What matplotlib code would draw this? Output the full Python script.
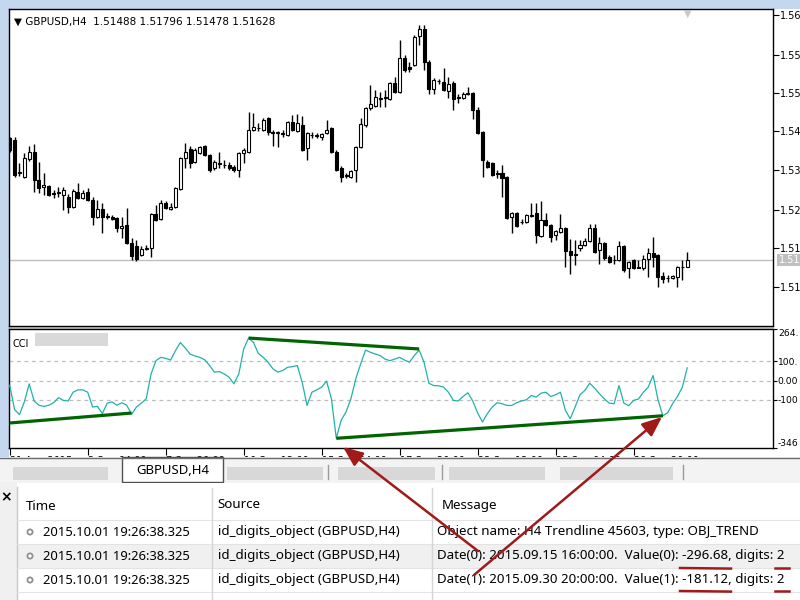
import matplotlib
matplotlib.use('Agg')
import matplotlib.pyplot as plt
import numpy as np
from matplotlib.patches import Rectangle, FancyArrowPatch, Circle

# ---------------- data ----------------
opens = [1.5413,1.5409,1.5343,1.5333,1.5370,1.5384,1.5327,1.5312,1.5315,1.5300,
         1.5300,1.5296,1.5292,1.5271,1.5302,1.5290,1.5302,1.5286,1.5251,1.5267,
         1.5251,1.5251,1.5249,1.5228,1.5235,1.5198,1.5191,1.5173,1.5185,1.5187,
         1.5257,1.5247,1.5280,1.5267,1.5271,1.5308,1.5372,1.5390,1.5364,1.5382,
         1.5397,1.5378,1.5351,1.5362,1.5358,1.5358,1.5354,1.5347,1.5382,1.5384,
         1.5429,1.5434,1.5429,1.5454,1.5425,1.5423,1.5423,1.5419,1.5446,1.5427,
         1.5440,1.5393,1.5419,1.5419,1.5415,1.5423,1.5434,1.5384,1.5351,1.5337,
         1.5333,1.5347,1.5395,1.5440,1.5475,1.5479,1.5495,1.5495,1.5493,1.5526,
         1.5507,1.5577,1.5559,1.5563,1.5622,1.5637,1.5569,1.5514,1.5530,1.5528,
         1.5509,1.5526,1.5497,1.5495,1.5505,1.5505,1.5470,1.5425,1.5364,1.5362,
         1.5341,1.5341,1.5333,1.5251,1.5259,1.5241,1.5241,1.5255,1.5259,1.5212,
         1.5245,1.5235,1.5214,1.5220,1.5228,1.5181,1.5175,1.5187,1.5194,1.5202,
         1.5228,1.5183,1.5198,1.5169,1.5163,1.5163,1.5191,1.5146,1.5163,1.5148,
         1.5146,1.5165,1.5177,1.5173,1.5130,1.5126,1.5126,1.5128,1.5148,1.51488]
highs = [1.5415,1.5415,1.5362,1.5382,1.5397,1.5401,1.5364,1.5341,1.5317,1.5306,
         1.5312,1.5312,1.5298,1.5308,1.5321,1.5306,1.5310,1.5292,1.5286,1.5280,
         1.5259,1.5255,1.5251,1.5251,1.5269,1.5208,1.5204,1.5191,1.5194,1.5259,
         1.5276,1.5286,1.5284,1.5280,1.5312,1.5374,1.5403,1.5397,1.5393,1.5397,
         1.5399,1.5380,1.5368,1.5384,1.5368,1.5364,1.5358,1.5384,1.5393,1.5466,
         1.5464,1.5444,1.5454,1.5456,1.5429,1.5427,1.5429,1.5448,1.5460,1.5462,
         1.5458,1.5425,1.5425,1.5423,1.5423,1.5450,1.5436,1.5388,1.5356,1.5341,
         1.5347,1.5397,1.5454,1.5477,1.5522,1.5511,1.5507,1.5511,1.5528,1.5538,
         1.5614,1.5583,1.5569,1.5624,1.5645,1.5645,1.5573,1.5536,1.5534,1.5557,
         1.5538,1.5530,1.5503,1.5507,1.5518,1.5507,1.5477,1.5427,1.5368,1.5364,
         1.5347,1.5358,1.5335,1.5261,1.5261,1.5247,1.5257,1.5280,1.5280,1.5284,
         1.5259,1.5237,1.5224,1.5257,1.5230,1.5206,1.5204,1.5204,1.5208,1.5237,
         1.5237,1.5210,1.5200,1.5173,1.5173,1.5202,1.5194,1.5161,1.5165,1.5163,
         1.5173,1.5187,1.5210,1.5175,1.5138,1.5132,1.5132,1.5150,1.5163,1.51796]
lows = [1.5384,1.5333,1.5335,1.5331,1.5366,1.5302,1.5300,1.5296,1.5294,1.5290,
        1.5292,1.5265,1.5259,1.5269,1.5288,1.5288,1.5284,1.5235,1.5249,1.5218,
        1.5247,1.5245,1.5220,1.5208,1.5196,1.5163,1.5161,1.5171,1.5183,1.5169,
        1.5243,1.5245,1.5267,1.5265,1.5269,1.5306,1.5351,1.5351,1.5362,1.5380,
        1.5376,1.5343,1.5347,1.5351,1.5351,1.5347,1.5343,1.5333,1.5362,1.5382,
        1.5427,1.5427,1.5427,1.5419,1.5397,1.5395,1.5415,1.5417,1.5427,1.5425,
        1.5386,1.5368,1.5413,1.5413,1.5409,1.5421,1.5382,1.5345,1.5323,1.5331,
        1.5331,1.5323,1.5393,1.5436,1.5470,1.5477,1.5477,1.5477,1.5491,1.5505,
        1.5505,1.5548,1.5548,1.5561,1.5604,1.5553,1.5503,1.5503,1.5524,1.5509,
        1.5495,1.5470,1.5485,1.5493,1.5501,1.5452,1.5421,1.5333,1.5351,1.5335,
        1.5331,1.5292,1.5247,1.5218,1.5230,1.5237,1.5239,1.5251,1.5198,1.5210,
        1.5232,1.5200,1.5204,1.5218,1.5148,1.5134,1.5153,1.5181,1.5191,1.5200,
        1.5177,1.5155,1.5163,1.5157,1.5155,1.5161,1.5138,1.5126,1.5144,1.5146,
        1.5142,1.5128,1.5148,1.5107,1.5116,1.5118,1.5124,1.5107,1.5122,1.51478]
closes = [1.5388,1.5337,1.5341,1.5372,1.5384,1.5327,1.5310,1.5317,1.5296,1.5298,
          1.5302,1.5306,1.5271,1.5304,1.5290,1.5300,1.5286,1.5251,1.5267,1.5251,
          1.5253,1.5247,1.5228,1.5232,1.5198,1.5171,1.5165,1.5185,1.5187,1.5257,
          1.5245,1.5280,1.5269,1.5271,1.5310,1.5372,1.5384,1.5362,1.5388,1.5395,
          1.5378,1.5347,1.5364,1.5360,1.5357,1.5351,1.5347,1.5382,1.5388,1.5429,
          1.5436,1.5433,1.5450,1.5425,1.5423,1.5425,1.5421,1.5446,1.5429,1.5444,
          1.5388,1.5423,1.5420,1.5417,1.5421,1.5429,1.5384,1.5347,1.5333,1.5335,
          1.5345,1.5395,1.5442,1.5475,1.5483,1.5497,1.5494,1.5497,1.5526,1.5507,
          1.5577,1.5553,1.5555,1.5620,1.5637,1.5569,1.5514,1.5532,1.5529,1.5511,
          1.5524,1.5493,1.5496,1.5503,1.5504,1.5470,1.5423,1.5368,1.5354,1.5337,
          1.5340,1.5331,1.5249,1.5259,1.5232,1.5240,1.5255,1.5254,1.5214,1.5245,
          1.5235,1.5210,1.5222,1.5228,1.5181,1.5173,1.5174,1.5194,1.5202,1.5228,
          1.5179,1.5198,1.5167,1.5159,1.5162,1.5191,1.5142,1.5159,1.5146,1.5147,
          1.5165,1.5177,1.5169,1.5128,1.5124,1.5125,1.5130,1.5148,1.5149,1.51628]

cci = [-25,-150,-175,-110,-17,-105,-127,-133,-127,-114,
       -88,-102,-105,-60,-48,-48,-60,-136,-133,-170,
       -116,-110,-127,-114,-127,-173,-136,-116,-94,34,
       102,119,114,105,153,195,167,136,126,119,
       107,77,43,46,34,17,-17,34,162,218,
       196,139,119,94,60,43,51,68,71,77,
       -9,-128,-60,-48,-34,-3,-94,-296.68,-204,-161,
       -94,9,85,156,145,136,128,110,102,110,
       119,105,94,128,156,94,-14,-26,-27,-34,
       -60,-102,-105,-82,-63,-105,-167,-213,-170,-136,
       -114,-119,-128,-128,-114,-105,-99,-77,-85,-65,
       -60,-82,-73,-60,-153,-196,-136,-73,-51,-14,
       -39,-68,-94,-116,-119,-26,-116,-129,-102,-95,
       -60,-34,26,-99,-181.12,-165,-119,-82,-34,65]

# trendlines on CCI window: (bar index, value)
trend_bars = [[0, 25], [49, 84], [67, 134]]
trend_vals = [[-218, -167], [218, 162], [-296.68, -181.12]]

price_ticks = [1.56653, 1.55833, 1.55053, 1.54274, 1.53474, 1.52653, 1.51874, 1.51074]
price_ylim = (1.50274, 1.56776)
cci_ylim = (-346.5, 264.5)
cci_levels = [100, 0, -100]
cci_tick_vals = [264.5, 100, 0, -100, -346.5]
cci_tick_labels = ['264.', '100.', '0.00', '-100', '-346']
time_tick_bars = [0, 16, 32, 48, 64, 80, 96, 112, 128]
time_tick_labels = ['31 Aug 2015', '3 Sep 04:00', '7 Sep 20:00', '10 Sep 12:00',
                    '15 Sep 04:00', '17 Sep 20:00', '22 Sep 12:00', '25 Sep 04:00',
                    '29 Sep 20:00']
title = '\u25BC GBPUSD,H4  1.51488 1.51796 1.51478 1.51628'
bid = closes[-1]

log_time = '2015.10.01 19:26:38.325'
log_source = 'id_digits_object (GBPUSD,H4)'
log_msgs = ['Object name: H4 Trendline 45603, type: OBJ_TREND',
            'Date(0): 2015.09.15 16:00:00.  Value(0): -296.68, digits: 2',
            'Date(1): 2015.09.30 20:00:00.  Value(1): -181.12, digits: 2']

# ---------------- figure ----------------
W, H = 800, 600
fig = plt.figure(figsize=(8, 6), dpi=100)
fig.patch.set_facecolor('white')

def rect(x0, y0, x1, y1):
    return [x0 / W, 1 - y1 / H, (x1 - x0) / W, (y1 - y0) / H]

FRAME = '#C4D7EE'

bg = fig.add_axes([0, 0, 1, 1], zorder=-5)
bg.set_xlim(0, W); bg.set_ylim(H, 0); bg.axis('off')
bg.add_patch(Rectangle((0, 0), W, 9, fc=FRAME, ec='none'))
bg.add_patch(Rectangle((0, 0), 9, 458, fc=FRAME, ec='none'))
bg.add_patch(Rectangle((9, 326), 764, 3, fc='#C8C8C8', ec='none'))

n = len(closes)
xs = np.arange(n)
XLIM = (-0.15, 156.6)

# main price window
ax = fig.add_axes(rect(9, 9, 773, 326))
ax.set_xlim(*XLIM)
ax.set_ylim(*price_ylim)
o = np.array(opens); c = np.array(closes); h = np.array(highs); l = np.array(lows)
ax.vlines(xs, l, h, color='black', lw=1.0, zorder=2)
up = c >= o
ax.bar(xs[up], (c - o)[up], bottom=o[up], width=0.62, color='white',
       edgecolor='black', linewidth=0.8, zorder=3)
ax.bar(xs[~up], (o - c)[~up], bottom=c[~up], width=0.62, color='black',
       edgecolor='black', linewidth=0.8, zorder=3)
ax.axhline(bid, color='#C0C0C0', lw=1, zorder=1)
ax.yaxis.tick_right()
ax.set_yticks(price_ticks)
ax.set_yticklabels([f'{v:.5f}'[:4] for v in price_ticks])
ax.tick_params(axis='y', direction='out', length=4, width=0.8, pad=1,
               labelsize=7, colors='black')
ax.set_xticks([])
for s in ax.spines.values():
    s.set_linewidth(1.0)
ax.text(0.006, 0.975, title, transform=ax.transAxes, fontsize=7.5,
        family='DejaVu Sans', va='top', ha='left')
ax.annotate(f'{bid:.5f}'[:4], xy=(1, bid), xycoords=('axes fraction', 'data'),
            xytext=(4, 0), textcoords='offset points', va='center', ha='left',
            fontsize=7, color='white',
            bbox=dict(boxstyle='square,pad=0.15', fc='#C0C0C0', ec='none'),
            annotation_clip=False)
ax.text(688 / 4.875 - 2, price_ylim[1], '\u25BC', color='#C8C8C8', fontsize=7,
        ha='center', va='top')

# CCI window
ax2 = fig.add_axes(rect(9, 329, 773, 448))
ax2.set_xlim(*XLIM)
ax2.set_ylim(*cci_ylim)
for lv in cci_levels:
    ax2.axhline(lv, color='#BEBEBE', lw=0.9, ls=(0, (3, 3)), zorder=1)
ax2.plot(xs, cci, color='#20B2AA', lw=0.9, zorder=3)
for tb, tv in zip(trend_bars, trend_vals):
    ax2.plot(tb, tv, color='#006400', lw=2.3, solid_capstyle='butt', zorder=4)
ax2.yaxis.tick_right()
ax2.set_yticks(cci_tick_vals)
ax2.set_yticklabels(cci_tick_labels)
ax2.tick_params(axis='y', direction='out', length=3, width=0.8, pad=0.5,
                labelsize=6.6)
tl = ax2.get_yticklabels()
tl[0].set_va('top'); tl[-1].set_va('bottom')
ax2.set_xticks(time_tick_bars)
ax2.set_xticklabels(time_tick_labels, ha='left')
ax2.tick_params(axis='x', direction='out', length=5, width=0.8, pad=0.5,
                labelsize=7)
for lab in ax2.get_xticklabels():
    lab.set_va('top')
ax2.text(0.005, 0.92, 'CCI', transform=ax2.transAxes, fontsize=7, va='top')
ax2.add_patch(Rectangle((0.034, 0.86), 0.096, 0.105, transform=ax2.transAxes,
                        fc='#D9D9D9', ec='none'))
for s in ax2.spines.values():
    s.set_linewidth(1.0)

# toolbox / tabs (pixel layout)
ui = fig.add_axes([0, 0, 1, 1], zorder=5)
ui.set_xlim(0, W); ui.set_ylim(H, 0); ui.axis('off')
ui.patch.set_alpha(0)
ui.add_patch(Rectangle((0, 457), W, 26, fc='#F3F3F3', ec='none'))
ui.plot([0, W], [457.5, 457.5], color='#6E6E6E', lw=1)
for x0, x1 in [(13, 108), (227, 323), (338, 435), (449, 545), (560, 673)]:
    ui.add_patch(Rectangle((x0, 467), x1 - x0, 13, fc='#D8D8D8', ec='none'))
for xsep in [328, 442, 683]:
    ui.plot([xsep, xsep], [465, 479], color='#9A9A9A', lw=1)
ui.add_patch(Rectangle((122, 457), 101, 25, fc='white', ec='#505050', lw=1))
ui.text(172.5, 471, 'GBPUSD,H4', fontsize=9.5, family='Noto Sans',
        ha='center', va='center')
ui.add_patch(Rectangle((0, 483), W, 117, fc='white', ec='none'))
ui.add_patch(Rectangle((0, 483), 17, 117, fc='#F0F0F0', ec='none'))
ui.plot([17, 17], [487, 600], color='#C8C8C8', lw=1)
ui.text(6, 497, '\u00D7', fontsize=10, fontweight='bold', ha='center',
        va='center', family='DejaVu Sans')
ui.add_patch(Rectangle((17, 544), W - 17, 24, fc='#F0F0F0', ec='none'))
for yline in [520, 544, 568, 592]:
    ui.plot([17, W], [yline, yline], color='#E3E3E3', lw=0.8)
for xc in [212, 432]:
    ui.plot([xc, xc], [488, 600], color='#D5D5D5', lw=1)
TF = dict(family='Noto Sans', fontsize=9.6, va='center', ha='left')
TT = dict(family='Noto Sans', fontsize=9.35, va='center', ha='left')
ui.text(26, 506, 'Time', **TF)
ui.text(217, 505, 'Source', **TF)
ui.text(442, 506, 'Message', **TF)
row_y = [532, 556, 580]
for ry, msg in zip(row_y, log_msgs):
    ui.add_patch(Circle((30, ry), 2.6, fc='white', ec='#909090', lw=1.3))
    ui.text(43, ry, log_time, **TT)
    ui.text(218, ry, log_source, **TF)
    ui.text(437, ry, msg, **TF)

# annotations (arrows / underlines)
an = fig.add_axes([0, 0, 1, 1], zorder=10)
an.set_xlim(0, W); an.set_ylim(H, 0); an.axis('off')
an.patch.set_alpha(0)
RED = '#A11A1A'
for tail, head in [((478, 551), (343, 447)), ((474, 575), (662, 417))]:
    an.add_patch(FancyArrowPatch(tail, head,
                                 arrowstyle='-|>,head_length=12,head_width=5',
                                 color=RED, lw=1.8, mutation_scale=1,
                                 shrinkA=0, shrinkB=0))
for yl in [568, 591]:
    an.plot([680, 731], [yl, yl + 0.6], color=RED, lw=1.8)
    an.plot([775, 789], [yl, yl], color=RED, lw=1.8)

fig.savefig('out.png', dpi=100)
